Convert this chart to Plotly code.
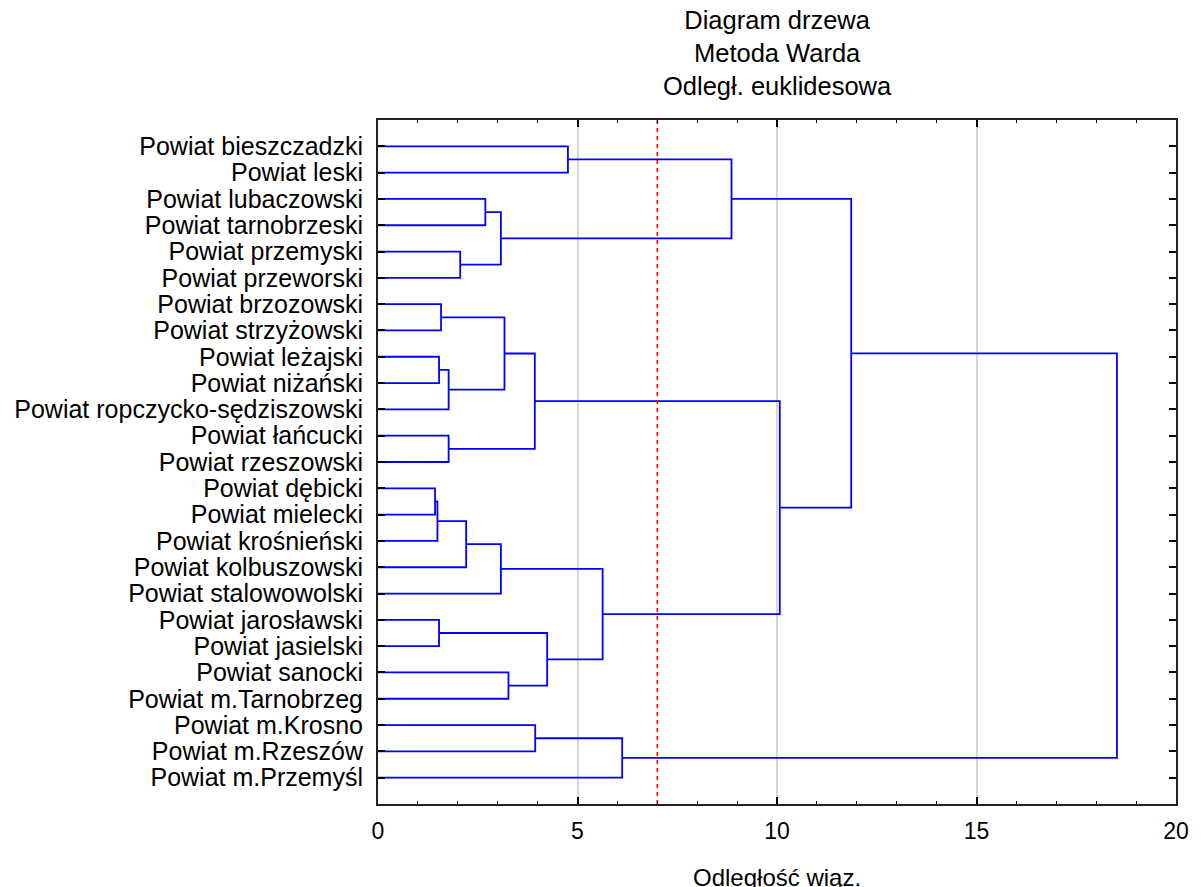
import plotly.graph_objects as go

# ---- data ----
labels = [
    "Powiat bieszczadzki", "Powiat leski", "Powiat lubaczowski", "Powiat tarnobrzeski",
    "Powiat przemyski", "Powiat przeworski", "Powiat brzozowski", "Powiat strzyżowski",
    "Powiat leżajski", "Powiat niżański", "Powiat ropczycko-sędziszowski",
    "Powiat łańcucki", "Powiat rzeszowski", "Powiat dębicki", "Powiat mielecki",
    "Powiat krośnieński", "Powiat kolbuszowski", "Powiat stalowowolski",
    "Powiat jarosławski", "Powiat jasielski", "Powiat sanocki", "Powiat m.Tarnobrzeg",
    "Powiat m.Krosno", "Powiat m.Rzeszów", "Powiat m.Przemyśl",
]
# merges: (left node, right node, linkage distance); leaves 0..24, new clusters numbered from 25
merge_left = [0, 2, 4, 26, 25, 6, 8, 31, 30, 11, 33, 13, 36, 37, 38, 18, 20, 40, 39, 35, 29, 22, 46, 45]
merge_right = [1, 3, 5, 27, 28, 7, 9, 10, 32, 12, 34, 14, 15, 16, 17, 19, 21, 41, 42, 43, 44, 23, 24, 47]
merge_height = [4.76, 2.69, 2.06, 3.08, 8.86, 1.58, 1.53, 1.77, 3.17, 1.77, 3.93, 1.43, 1.49,
                2.21, 3.08, 1.53, 3.27, 4.24, 5.63, 10.07, 11.86, 3.94, 6.12, 18.52]
cut_level = 7.0
x_ticks = [0, 5, 10, 15, 20]

# ---- build dendrogram path ----
n = len(labels)
pos = {i: i + 1 for i in range(n)}
hgt = {i: 0.0 for i in range(n)}
xs, ys = [], []
for k, (a, b, h) in enumerate(zip(merge_left, merge_right, merge_height)):
    xs += [hgt[a], h, h, hgt[b], None]
    ys += [pos[a], pos[a], pos[b], pos[b], None]
    node = n + k
    pos[node] = (pos[a] + pos[b]) / 2
    hgt[node] = h

font_family = "Liberation Sans, Arial, sans-serif"

W, H = 1201, 887
L, T, R_EDGE, B_EDGE = 378, 120, 1183, 804
plot_h = B_EDGE - T

fig = go.Figure()
fig.add_trace(go.Scatter(
    x=xs, y=ys, mode="lines",
    line=dict(color="#0000ff", width=1.8),
    hoverinfo="skip", showlegend=False,
))
fig.add_trace(go.Scatter(
    x=[cut_level, cut_level], y=[0, n + 1], mode="lines",
    line=dict(color="#ff0000", width=1.6, dash="4px,4px"),
    hoverinfo="skip", showlegend=False,
))

fig.update_layout(
    width=W, height=H,
    margin=dict(l=L, r=W - R_EDGE, t=T, b=H - B_EDGE),
    paper_bgcolor="white", plot_bgcolor="white",
    font=dict(family=font_family, color="#000000"),
    showlegend=False,
)
fig.add_annotation(
    text="Diagram drzewa<br>Metoda Warda<br>Odległ. euklidesowa",
    xref="paper", yref="paper", x=0.5, xanchor="center",
    y=1 + (T - 4) / plot_h, yanchor="top", showarrow=False,
    font=dict(size=25.5, family=font_family, color="#000000"),
)
fig.update_xaxes(
    range=[0, 20], tickvals=x_ticks, ticktext=[str(v) for v in x_ticks],
    ticks="inside", ticklen=7, tickwidth=1.5, tickcolor="#000000",
    minor=dict(dtick=1, ticks="inside", ticklen=3, tickwidth=1, tickcolor="#000000", showgrid=False),
    showline=True, linewidth=2, linecolor="#222222", mirror="ticks",
    showgrid=True, gridcolor="#d6d6d6", gridwidth=1.5,
    zeroline=False, tickfont=dict(size=23, family=font_family, color="#000000"),
    ticklabelstandoff=5,
)
fig.update_yaxes(
    range=[n + 1, 0], tickvals=list(range(1, n + 1)), ticktext=labels,
    ticks="inside", ticklen=7, tickwidth=1.5, tickcolor="#000000",
    showline=True, linewidth=2, linecolor="#222222", mirror="ticks",
    showgrid=False, zeroline=False,
    tickfont=dict(size=25, family=font_family, color="#000000"),
    ticklabelstandoff=8,
)
fig.add_annotation(
    text="Odległość wiąz.", xref="paper", yref="paper",
    x=0.5, y=-(877 - B_EDGE) / plot_h, xanchor="center", yanchor="middle",
    showarrow=False, font=dict(size=24, family=font_family, color="#000000"),
)

fig.write_html(
    "out.html",
    config={"displayModeBar": False},
    post_script="document.body.style.margin='0';document.body.style.overflow='hidden';",
)
